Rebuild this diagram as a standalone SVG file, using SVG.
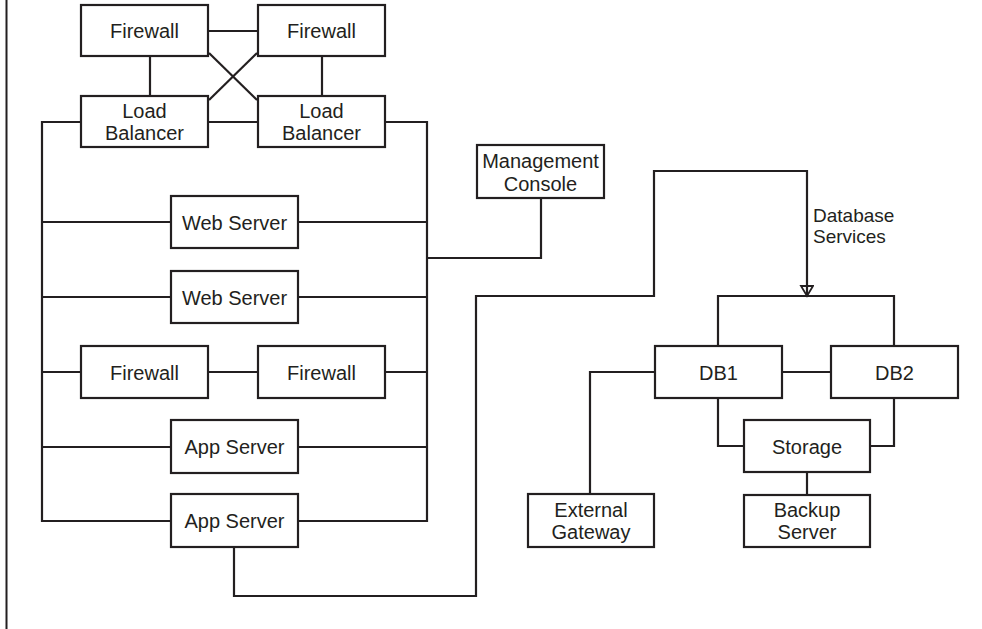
<svg xmlns="http://www.w3.org/2000/svg" width="982" height="629" viewBox="0 0 982 629">
<defs>
<style>
.box{fill:#fff;stroke:#231f20;stroke-width:2.2}
.lbl{font-family:"Liberation Sans",Arial,sans-serif;font-size:20px;fill:#231f20;text-anchor:middle}
.note{font-family:"Liberation Sans",Arial,sans-serif;font-size:19px;fill:#231f20}
.wire{fill:none;stroke:#231f20;stroke-width:2.2}
</style>
<marker id="open" markerUnits="userSpaceOnUse" markerWidth="16" markerHeight="16" refX="11" refY="7" orient="auto">
<path d="M1,1 L11,7 L1,13 Z" fill="none" stroke="#231f20" stroke-width="1.8"/>
</marker>
</defs>
<rect width="982" height="629" fill="#fff"/>
<line x1="6.5" y1="0" x2="6.5" y2="629" stroke="#231f20" stroke-width="2"/>
<g id="connectors">
<path class="wire" d="M209,31 H257"/>
<path class="wire" d="M150,57 V95"/>
<path class="wire" d="M322,57 V95"/>
<path class="wire" d="M209,53 L257,100"/>
<path class="wire" d="M257,53 L209,100"/>
<path class="wire" d="M209,122 H257"/>
<path class="wire" d="M80,122 H42 V521 H170"/>
<path class="wire" d="M42,222 H170 M42,297 H170 M42,372 H80 M42,447 H170"/>
<path class="wire" d="M386,122 H427 V521 H299"/>
<path class="wire" d="M427,222 H299 M427,297 H299 M427,372 H386 M427,447 H299"/>
<path class="wire" d="M209,372 H257"/>
<path class="wire" d="M541,199 V258 H427"/>
<path class="wire" d="M234,548 V596 H476 V296 H654 V171 H807 V296" marker-end="url(#open)"/>
<path class="wire" d="M718,345 V296 H894 V345"/>
<path class="wire" d="M783,372 H830"/>
<path class="wire" d="M654,372 H590 V493"/>
<path class="wire" d="M718,399 V446 H743"/>
<path class="wire" d="M894,399 V446 H871"/>
<path class="wire" d="M807,473 V494"/>
</g>
<g id="label-database-services">
<text class="note" x="813" y="222">Database</text>
<text class="note" x="813" y="243">Services</text>
</g>
<g id="fw1"><rect class="box" x="81" y="5" width="127" height="51"/><text class="lbl" x="144.5" y="38">Firewall</text></g>
<g id="fw2"><rect class="box" x="258" y="5" width="127" height="51"/><text class="lbl" x="321.5" y="38">Firewall</text></g>
<g id="lb1"><rect class="box" x="81" y="96" width="127" height="51"/><text class="lbl" x="144.5" y="118">Load</text><text class="lbl" x="144.5" y="140">Balancer</text></g>
<g id="lb2"><rect class="box" x="258" y="96" width="127" height="51"/><text class="lbl" x="321.5" y="118">Load</text><text class="lbl" x="321.5" y="140">Balancer</text></g>
<g id="web1"><rect class="box" x="171" y="196" width="127" height="52"/><text class="lbl" x="234.5" y="229.5">Web Server</text></g>
<g id="web2"><rect class="box" x="171" y="271" width="127" height="52"/><text class="lbl" x="234.5" y="304.5">Web Server</text></g>
<g id="fw3"><rect class="box" x="81" y="346" width="127" height="52"/><text class="lbl" x="144.5" y="379.5">Firewall</text></g>
<g id="fw4"><rect class="box" x="258" y="346" width="127" height="52"/><text class="lbl" x="321.5" y="379.5">Firewall</text></g>
<g id="app1"><rect class="box" x="171" y="420" width="127" height="53"/><text class="lbl" x="234.5" y="454">App Server</text></g>
<g id="app2"><rect class="box" x="171" y="494" width="127" height="53"/><text class="lbl" x="234.5" y="528">App Server</text></g>
<g id="mgmt"><rect class="box" x="477" y="145" width="127" height="53"/><text class="lbl" x="540.5" y="167.5">Management</text><text class="lbl" x="540.5" y="190.5">Console</text></g>
<g id="db1"><rect class="box" x="655" y="346" width="127" height="52"/><text class="lbl" x="718.5" y="379.5">DB1</text></g>
<g id="db2"><rect class="box" x="831" y="346" width="127" height="52"/><text class="lbl" x="894.5" y="379.5">DB2</text></g>
<g id="storage"><rect class="box" x="744" y="420" width="126" height="52"/><text class="lbl" x="807" y="453.5">Storage</text></g>
<g id="extgw"><rect class="box" x="528" y="494" width="126" height="53"/><text class="lbl" x="591" y="516.5">External</text><text class="lbl" x="591" y="538.5">Gateway</text></g>
<g id="backup"><rect class="box" x="744" y="495" width="126" height="52"/><text class="lbl" x="807" y="517">Backup</text><text class="lbl" x="807" y="539">Server</text></g>
</svg>
